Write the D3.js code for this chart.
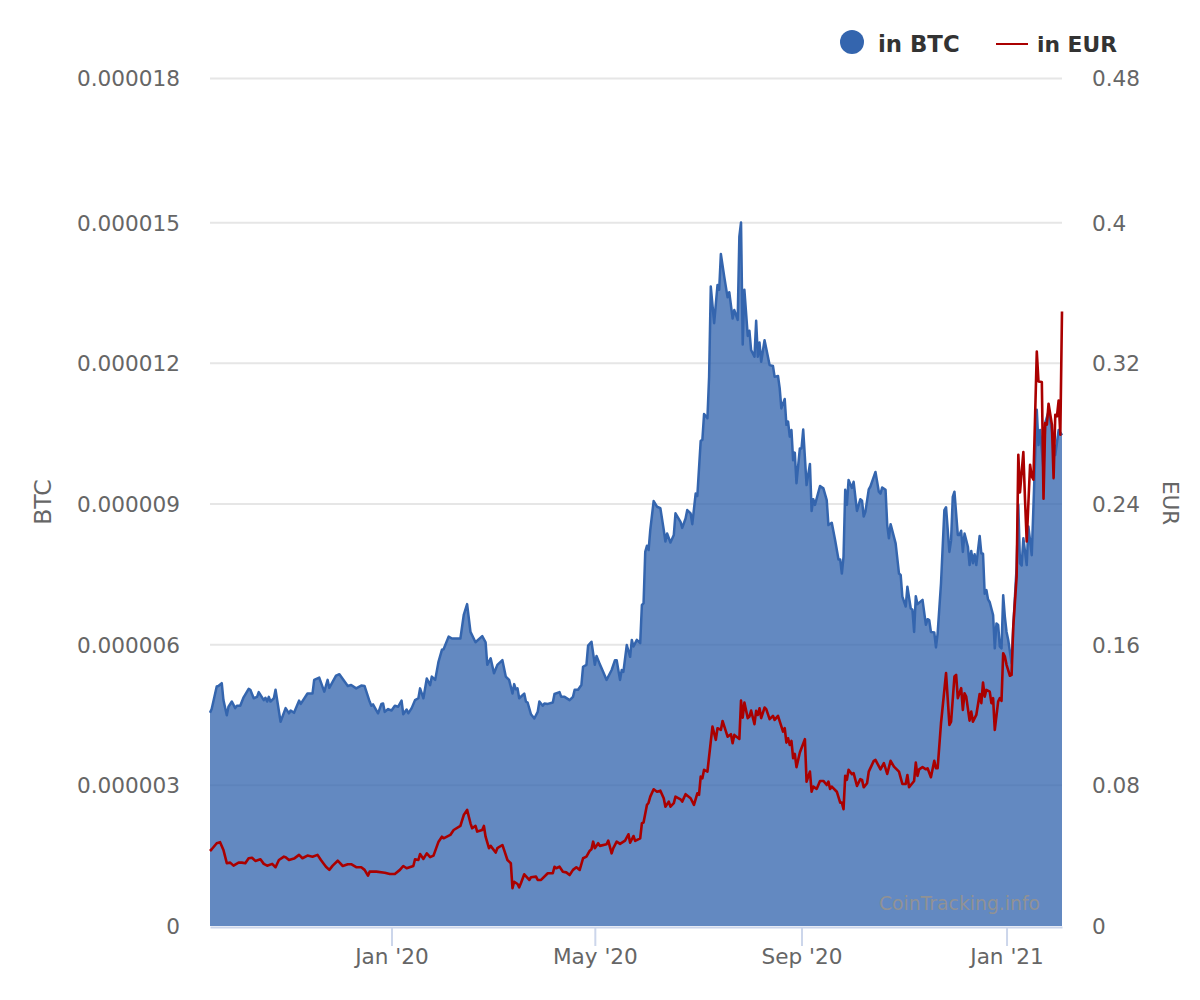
<!DOCTYPE html>
<html>
<head>
<meta charset="utf-8">
<script src="https://cdnjs.cloudflare.com/ajax/libs/d3/7.8.5/d3.min.js"></script>
<style>
  html, body { margin: 0; padding: 0; background: #fff; }
  svg { display: block; }
  text { font-family: "DejaVu Sans", sans-serif; }
</style>
</head>
<body>
<script>
// days counted from the first day of the chart, 15 Sep 2019
var btcDays = [0,1,4,5,7,8,10,11,13,15,16,18,20,23,24,26,28,29,32,33,34,35,36,38,39,42,45,47,48,50,53,54,58,61,62,65,68,70,71,75,77,82,84,87,90,92,95,96,97,100,102,103,104,106,108,110,112,114,115,117,118,120,122,124,125,127,129,131,132,134,136,138,139,142,144,149,151,153,155,158,162,164,165,167,169,171,174,176,178,180,181,182,183,184,187,188,189,191,193,195,196,198,199,201,204,205,208,209,211,214,216,217,219,221,222,224,225,227,229,230,232,234,236,239,241,242,244,245,246,248,250,251,252,254,256,257,258,259,260,261,262,264,266,268,270,271,272,274,276,277,280,281,283,284,286,287,289,290,292,293,294,296,297,298,300,302,303,304,306,308,309,311,312,314,315,316,317,318,320,321,322,324,325,326,327,328,330,332,333,335,336,338,339,340,342,343,344,345,346,347,348,349,351,352,353,355,357,358,359,360,363,365,367,368,370,372,374,375,376,377,378,379,380,382,383,385,387,388,389,390,392,393,396,398,399,400,402,403,404,405,408,410,411,412,414,415,417,418,419,420,421,424,426,427,428,429,431,432,433,435,437,438,440,441,442,443,445,446,447,448,449,451,452,453,454,455,456,458,459,460,461,462,463,464,466,467,468,469,470,471,472,473,474,475,477,478,480,481,482,483,484,486,487,489,490,492,493,494,496,497,499,501,503,505,507];

// in millionths of a BTC
var btcValues = [4.53,4.61,5.09,5.10,5.16,4.80,4.48,4.66,4.77,4.63,4.68,4.68,4.86,5.04,5.02,4.84,4.87,4.97,4.80,4.85,4.77,4.87,4.77,4.84,5.02,4.34,4.63,4.52,4.58,4.53,4.79,4.72,4.94,4.94,5.23,5.28,4.98,5.23,5.06,5.32,5.35,5.10,5.12,5.05,5.11,5.10,4.77,4.68,4.71,4.52,4.72,4.73,4.55,4.61,4.58,4.68,4.66,4.79,4.50,4.60,4.52,4.63,4.80,4.84,5.05,4.84,5.26,5.12,5.30,5.23,5.62,5.87,5.88,6.15,6.11,6.11,6.61,6.84,6.25,6.03,6.16,6.03,5.55,5.69,5.37,5.55,5.65,5.30,5.23,4.94,5.14,5.03,5.05,4.84,4.94,4.77,4.75,4.50,4.41,4.55,4.77,4.68,4.73,4.72,4.75,4.93,4.97,4.87,4.87,4.80,4.87,5.02,5.02,5.12,5.51,5.55,5.96,6.04,5.55,5.74,5.56,5.40,5.23,5.44,5.65,5.65,5.23,5.44,5.40,5.97,5.72,6.08,5.94,6.08,6.01,6.82,6.86,7.95,8.08,7.99,8.42,9.03,8.91,8.88,8.42,8.17,8.34,8.15,8.31,8.77,8.59,8.46,8.66,8.84,8.77,8.54,9.19,9.14,10.31,10.33,10.88,10.79,11.67,13.59,12.81,13.62,13.52,14.28,13.80,13.36,13.47,12.91,13.09,12.88,14.65,14.95,12.36,13.52,12.54,12.65,12.24,12.10,12.86,12.10,12.40,11.99,12.45,12.10,11.92,11.90,11.67,11.69,11.43,11.00,11.20,10.65,10.72,10.40,10.54,9.90,10.06,9.41,10.15,10.15,10.55,9.37,9.82,8.82,9.07,8.95,9.35,9.30,9.05,8.52,8.57,8.20,7.79,7.79,7.49,7.85,9.27,8.95,9.48,9.31,9.44,8.82,9.07,9.04,8.70,8.80,9.28,9.34,9.65,9.23,9.19,9.32,9.27,8.52,8.24,8.54,8.13,7.49,7.46,7.00,6.79,7.21,6.75,6.72,6.25,7.01,6.84,6.93,6.40,6.52,6.50,6.25,6.24,5.92,6.22,7.28,8.84,8.90,7.95,8.20,9.12,9.23,8.31,8.31,8.40,7.95,8.34,8.06,7.67,7.97,7.71,7.90,7.67,8.29,7.92,7.91,7.06,7.14,6.94,6.88,6.61,5.90,6.43,6.40,5.94,5.90,7.03,6.57,6.25,6.08,5.58,6.36,7.64,8.95,7.71,7.66,8.24,7.67,8.49,7.88,8.91,10.97,10.22,10.54,9.69,10.69,10.93,10.54,10.01,10.54,10.43];

var eurDays = [0,1,4,6,8,10,12,14,17,19,21,23,25,27,30,32,34,37,39,41,44,45,47,50,53,55,58,61,64,66,69,71,73,76,79,82,84,87,90,92,94,95,99,104,107,110,113,115,117,121,122,124,125,127,129,131,133,136,138,139,143,145,149,151,153,155,156,158,159,162,163,164,166,167,170,171,174,175,177,178,179,180,181,183,184,185,187,190,191,194,195,197,201,204,205,206,208,210,212,214,216,218,220,222,224,226,227,228,229,231,232,236,237,239,240,242,244,247,249,250,252,253,256,257,258,260,261,262,264,266,268,270,271,273,274,276,277,280,281,283,286,288,290,291,292,293,294,296,299,301,302,304,305,308,310,311,312,315,316,317,318,320,321,322,324,325,326,327,328,330,331,333,335,336,338,341,342,343,344,345,346,347,348,349,351,354,355,357,358,359,361,363,365,367,368,369,370,373,375,376,377,378,379,380,382,383,385,387,388,389,391,392,395,396,399,401,403,405,407,410,412,414,415,416,419,420,421,422,424,426,427,429,431,432,433,435,438,440,441,443,444,445,447,448,449,450,452,453,454,456,458,459,460,461,462,464,465,466,467,469,470,471,472,473,474,476,477,478,480,481,482,484,485,486,488,489,490,492,493,495,496,497,498,499,501,502,503,504,505,506,507];

var eurValues = [.0425,.0435,.0469,.0475,.0431,.0356,.0359,.0342,.0359,.0359,.0356,.0384,.0387,.0369,.0378,.0352,.0342,.0352,.0333,.0374,.0393,.0390,.0374,.0382,.0403,.0384,.0399,.0393,.0403,.0374,.0336,.0318,.0342,.0370,.0340,.0350,.0350,.0333,.0333,.0318,.0285,.0308,.0308,.0302,.0295,.0295,.0318,.0340,.0327,.0340,.0378,.0374,.0408,.0380,.0412,.0390,.0399,.0478,.0506,.0497,.0516,.0544,.0567,.0629,.0658,.0582,.0554,.0567,.0535,.0544,.0567,.0506,.0441,.0454,.0416,.0441,.0459,.0431,.0374,.0365,.0356,.0214,.0251,.0238,.0219,.0242,.0293,.0261,.0276,.0280,.0261,.0261,.0299,.0299,.0336,.0327,.0336,.0308,.0304,.0289,.0318,.0333,.0318,.0384,.0393,.0427,.0435,.0478,.0441,.0469,.0454,.0463,.0484,.0412,.0441,.0478,.0465,.0484,.0520,.0472,.0510,.0482,.0497,.0582,.0586,.0686,.0699,.0733,.0775,.0761,.0767,.0724,.0676,.0705,.0676,.0696,.0733,.0718,.0705,.0747,.0724,.0686,.0752,.0743,.0847,.0837,.0885,.0875,.1130,.1055,.1121,.1111,.1162,.1073,.1087,.1036,.1083,.1060,.1277,.1181,.1266,.1178,.1187,.1221,.1144,.1219,.1196,.1234,.1178,.1238,.1229,.1172,.1191,.1168,.1191,.1102,.1121,.1039,.1064,.1026,.1049,.0951,.0975,.0900,.0983,.1059,.0818,.0875,.0761,.0790,.0777,.0822,.0822,.0799,.0818,.0777,.0790,.0761,.0699,.0699,.0662,.0851,.0828,.0885,.0860,.0866,.0794,.0832,.0828,.0786,.0809,.0875,.0936,.0941,.0888,.0923,.0862,.0936,.0903,.0875,.0805,.0805,.0856,.0786,.0822,.0926,.0851,.0888,.0900,.0888,.0894,.0843,.0936,.0894,.0894,.1149,.1433,.1140,.1158,.1414,.1423,.1291,.1348,.1225,.1319,.1300,.1164,.1215,.1158,.1196,.1315,.1263,.1380,.1300,.1338,.1328,.1263,.1291,.1111,.1272,.1291,.1276,.1546,.1527,.1480,.1418,.1423,.1697,.1981,.2671,.2457,.2686,.2415,.2179,.2614,.2548,.2529,.3256,.3086,.3083,.2421,.2850,.2841,.2960,.2841,.2538,.2897,.2888,.2978,.2784,.3483];

var btcTicks = [0,3,6,9,12,15,18];
var btcTickLabels = ["0","0.000003","0.000006","0.000009","0.000012","0.000015","0.000018"];
var eurTicks = [0,.08,.16,.24,.32,.4,.48];
var xTicks = [new Date(Date.UTC(2020,0,1)),new Date(Date.UTC(2020,4,1)),new Date(Date.UTC(2020,8,1)),new Date(Date.UTC(2021,0,1))];

var blue = "#3465ae";
var red = "#aa0000";

function dayToDate(d){
  return new Date(Date.UTC(2019,8,15+d));
}

var svg = d3.select("body").append("svg")
            .attr("width",1200)
            .attr("height",1000);

var x = d3.scaleUtc()
          .domain([dayToDate(0),dayToDate(507)])
          .range([210,1062]);
var yBtc = d3.scaleLinear().domain([0,18]).range([926,79]);
var yEur = d3.scaleLinear().domain([0,.48]).range([926,79]);

// the gridlines in the picture are not quite even, the top gap is wider
var yBtcTicks = d3.scaleLinear().domain([0,15,18]).range([926,222.7,78.5]);
var yEurTicks = d3.scaleLinear().domain([0,.4,.48]).range([926,222.7,78.5]);

// grid
svg.append("g").selectAll("line")
   .data(btcTicks.slice(1))
   .enter().append("line")
   .attr("x1",210)
   .attr("x2",1062)
   .attr("y1",function(d){return yBtcTicks(d);})
   .attr("y2",function(d){return yBtcTicks(d);})
   .style("stroke","#e6e6e6")
   .style("stroke-width",2);

// BTC area and its line
var area = d3.area()
             .x(function(d,i){return x(dayToDate(btcDays[i]));})
             .y0(yBtc(0))
             .y1(function(d){return yBtc(d);});
var btcLine = d3.line()
                .x(function(d,i){return x(dayToDate(btcDays[i]));})
                .y(function(d){return yBtc(d);});
var eurLine = d3.line()
                .x(function(d,i){return x(dayToDate(eurDays[i]));})
                .y(function(d){return yEur(d);});

svg.append("path")
   .attr("d",area(btcValues))
   .style("fill",blue)
   .style("fill-opacity",.77);
svg.append("path")
   .attr("d",btcLine(btcValues))
   .style("fill","none")
   .style("stroke",blue)
   .style("stroke-width",2.5)
   .style("stroke-linejoin","round");

// watermark sits under the red line but over the area
svg.append("text")
   .attr("x",1040)
   .attr("y",910)
   .attr("text-anchor","end")
   .style("font-size","18.8px")
   .style("fill","#919294")
   .text("CoinTracking.info");

svg.append("path")
   .attr("d",eurLine(eurValues))
   .style("fill","none")
   .style("stroke",red)
   .style("stroke-width",2.6)
   .style("stroke-linejoin","round");

// axes
var leftAxis = d3.axisLeft(yBtcTicks)
                 .tickValues(btcTicks)
                 .tickFormat(function(d,i){return btcTickLabels[i];})
                 .tickSize(0)
                 .tickPadding(30);
var rightAxis = d3.axisRight(yEurTicks)
                  .tickValues(eurTicks)
                  .tickFormat(function(d){return d===0 ? "0" : String(d);})
                  .tickSize(0)
                  .tickPadding(30);
var bottomAxis = d3.axisBottom(x)
                   .tickValues(xTicks)
                   .tickFormat(d3.utcFormat("%b '%y"))
                   .tickSizeInner(19)
                   .tickSizeOuter(0)
                   .tickPadding(3);

svg.append("g").attr("class","axis y").attr("transform","translate(210,0)").call(leftAxis);
svg.append("g").attr("class","axis y").attr("transform","translate(1062,0)").call(rightAxis);
svg.append("g").attr("class","axis x").attr("transform","translate(0,927)").call(bottomAxis);

svg.selectAll(".axis text")
   .style("font-family","'DejaVu Sans', sans-serif")
   .style("font-size","21.6px")
   .style("fill","#666");
svg.selectAll(".y text").attr("y",0.5);
svg.selectAll(".y .domain").remove();
svg.selectAll(".x .domain").style("stroke","#ccd6eb").style("stroke-width",2);
svg.selectAll(".x .tick line").style("stroke","#ccd6eb").style("stroke-width",2);

// axis titles
svg.append("text")
   .attr("transform","translate(51,502) rotate(-90)")
   .attr("text-anchor","middle")
   .style("font-size","23.5px")
   .style("fill","#666")
   .text("BTC");
svg.append("text")
   .attr("transform","translate(1163,503) rotate(90)")
   .attr("text-anchor","middle")
   .style("font-size","21.5px")
   .style("fill","#666")
   .text("EUR");

// legend
var legend = svg.append("g");
legend.append("circle")
      .attr("cx",852)
      .attr("cy",42)
      .attr("r",12)
      .style("fill",blue);
legend.append("text")
      .attr("x",878)
      .attr("y",52)
      .style("font-size","22.8px")
      .style("font-weight","bold")
      .style("fill","#333")
      .text("in BTC");
legend.append("line")
      .attr("x1",996)
      .attr("x2",1028)
      .attr("y1",44)
      .attr("y2",44)
      .style("stroke",red)
      .style("stroke-width",2);
legend.append("text")
      .attr("x",1037)
      .attr("y",52)
      .style("font-size","21.8px")
      .style("font-weight","bold")
      .style("fill","#333")
      .text("in EUR");
</script>
</body>
</html>
